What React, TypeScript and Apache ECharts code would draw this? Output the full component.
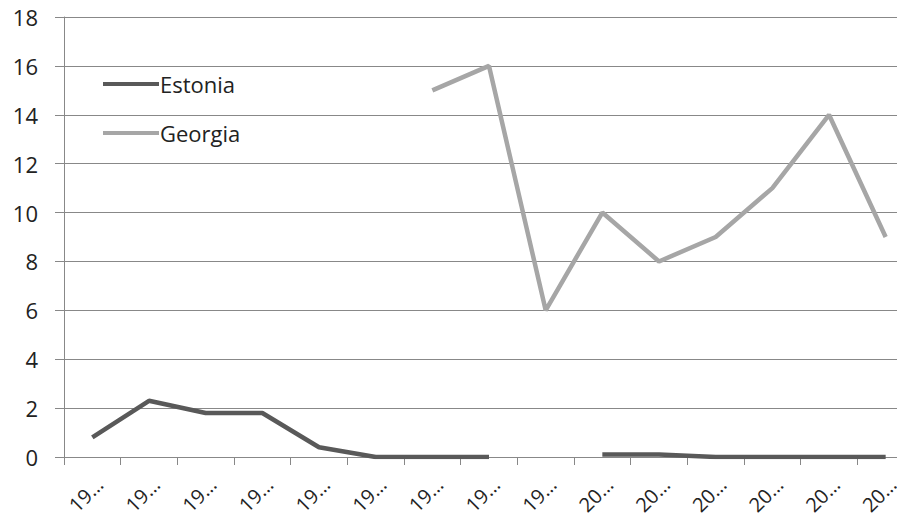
import React, { useEffect, useRef } from "react";
import * as echarts from "echarts";

const years = ["1991","1992","1993","1994","1995","1996","1997","1998","1999","2000","2001","2002","2003","2004","2005"];
const estonia: (number | null)[] = [0.8, 2.3, 1.8, 1.8, 0.4, 0, 0, 0, null, 0.1, 0.1, 0, 0, 0, 0];
const georgia: (number | null)[] = [null, null, null, null, null, null, 15, 16, 6, 10, 8, 9, 11, 14, 9];
const yTicks = { min: 0, max: 18, interval: 2 };

export default function App() {
  const ref = useRef<HTMLDivElement>(null);
  useEffect(() => {
    document.body.style.margin = "0";
    const chart = echarts.init(ref.current!, null, { renderer: "svg" });
    const font = "'Open Sans', 'Noto Sans', sans-serif";
    chart.setOption({
      animation: false,
      backgroundColor: "#ffffff",
      textStyle: { fontFamily: font },
      grid: { left: 64, right: 0, top: 17, bottom: 63, containLabel: false },
      legend: {
        orient: "vertical",
        left: 98,
        top: 68,
        itemGap: 27,
        itemWidth: 56,
        itemHeight: 4,
        icon: "rect",
        textStyle: { fontSize: 22, color: "#222", fontFamily: font, padding: [0, 0, 0, -4] },
        data: ["Estonia", "Georgia"],
      },
      xAxis: {
        type: "category",
        data: years,
        boundaryGap: true,
        axisLine: { lineStyle: { color: "#888", width: 1 } },
        axisTick: { show: true, length: 8, lineStyle: { color: "#888" }, alignWithLabel: false },
        axisLabel: {
          rotate: 45,
          fontSize: 20,
          color: "#222",
          margin: 17,
          verticalAlign: "top",
          formatter: (v: string) => v.slice(0, 2) + "…",
        },
      },
      yAxis: {
        type: "value",
        min: yTicks.min,
        max: yTicks.max,
        interval: yTicks.interval,
        axisLine: { show: true, lineStyle: { color: "#888" } },
        axisTick: { show: true, length: 9, lineStyle: { color: "#888" } },
        axisLabel: { fontSize: 22, color: "#222", margin: 26 },
        splitLine: { lineStyle: { color: "#888", width: 1 } },
      },
      series: [
        {
          name: "Estonia",
          type: "line",
          data: estonia,
          symbol: "none",
          lineStyle: { color: "#595959", width: 4.5 },
          itemStyle: { color: "#595959" },
          connectNulls: false,
        },
        {
          name: "Georgia",
          type: "line",
          data: georgia,
          symbol: "none",
          lineStyle: { color: "#a6a6a6", width: 4.5 },
          itemStyle: { color: "#a6a6a6" },
          connectNulls: false,
        },
      ],
    });
    return () => chart.dispose();
  }, []);
  return (
    <div style={{ width: 897, height: 520, overflow: "hidden", position: "relative" }}>
      <div ref={ref} style={{ width: 914, height: 520 }} />
    </div>
  );
}
